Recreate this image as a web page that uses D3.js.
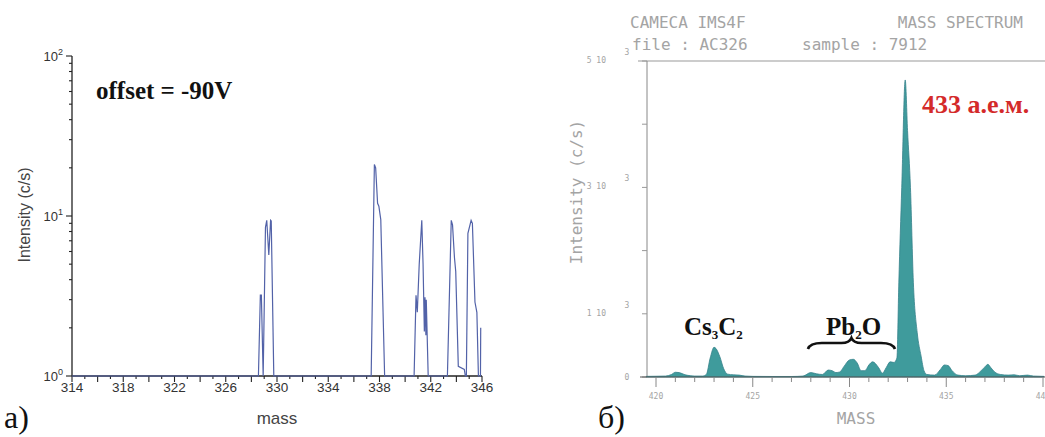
<!DOCTYPE html>
<html>
<head>
<meta charset="utf-8">
<script src="https://cdn.jsdelivr.net/npm/d3@7/dist/d3.min.js"></script>
<style>
  html, body { margin: 0; padding: 0; background: #fff; }
  svg { display: block; }
</style>
</head>
<body>
<svg id="fig" width="1045" height="437"></svg>
<script>
// ---- Panel a): scan at offset -90 V (log intensity) ----
const massA   = [314, 328.55, 328.7, 328.78, 328.92, 329.1, 329.2, 329.36, 329.5, 329.55, 329.75,
                 337.35, 337.6, 337.7, 337.85, 337.95, 338.1, 338.4,
                 340.7, 340.85, 340.95, 341.1, 341.3, 341.4, 341.5, 341.55, 341.62, 341.65, 341.8,
                 343.3, 343.6, 343.7, 343.85, 343.95, 344.15, 344.62, 344.7, 344.78, 344.9, 345.15, 345.25, 345.45, 345.6, 345.72, 345.88, 345.9];
const countsA = [1, 1, 3.2, 3.2, 1, 8.5, 9.4, 5.7, 9.4, 9.3, 1,
                 1, 21, 20, 12, 11.5, 9.5, 1,
                 1, 3.2, 2.5, 5, 9.4, 5, 1.9, 3.1, 1.8, 3.0, 1,
                 1, 9.4, 8.8, 5.5, 4.5, 1.15, 1.1, 1, 1, 7.8, 9.4, 9.0, 2.9, 2.5, 1, 1, 2.0];
const xTicksA = [314, 318, 322, 326, 330, 334, 338, 342, 346];
const yDecadesA = [0, 1, 2];

// ---- Panel б): CAMECA IMS4F mass spectrum (linear intensity) ----
const massB   = [419.5, 420.0, 420.5, 420.8, 421.0, 421.2, 421.5, 421.8, 422.0, 422.4, 422.6, 422.8, 423.0, 423.1, 423.3, 423.5, 423.7, 424.0, 424.3, 424.6,
                 425.0, 426.0, 427.0, 427.6, 428.0, 428.3, 428.6, 428.9, 429.1, 429.3, 429.5, 429.7, 430.0, 430.2, 430.4, 430.6, 430.8,
                 431.0, 431.2, 431.5, 431.7, 431.9, 432.1, 432.3, 432.45, 432.55, 432.7, 432.88, 433.0, 433.15, 433.3, 433.5, 433.7, 433.85, 434.0,
                 434.4, 434.7, 434.9, 435.1, 435.3, 435.6, 436.0, 436.5, 436.8, 437.0, 437.15, 437.3, 437.5, 437.8, 438.2, 438.5, 438.8, 439.2, 439.5, 440.05];
const countsB = [10, 12, 15, 40, 75, 70, 35, 20, 15, 15, 40, 300, 470, 450, 320, 130, 45, 35, 30, 15,
                 10, 8, 8, 15, 70, 50, 40, 110, 100, 70, 80, 160, 270, 280, 220, 100, 100,
                 190, 240, 150, 60, 150, 240, 230, 300, 1500, 3000, 4700, 3900, 3000, 1500, 700, 330, 100, 40,
                 30, 120, 190, 180, 100, 30, 20, 30, 100, 160, 200, 150, 80, 40, 30, 35, 20, 30, 15, 10];
const xTicksB = [420, 425, 430, 435, 440];
const yTicksB = [0, 1000, 2000, 3000, 4000, 5000];
const yLabelsB = [{v: 0, m: "", e: "0"}, {v: 1000, m: "1 10", e: "3"}, {v: 3000, m: "3 10", e: "3"}, {v: 5000, m: "5 10", e: "3"}];

const svg = d3.select("#fig");

// ================= Panel a) =================
const xA = d3.scaleLinear().domain([314, 346]).range([72, 482]);
const yA = d3.scaleLog().domain([1, 100]).range([376, 56]);
const axisCol = "#222";
const gA = svg.append("g");

// y axis with log minor ticks
const yTickVals = [];
for (let d = 0; d < 2; d++) for (let k = 1; k <= 9; k++) yTickVals.push(k * Math.pow(10, d));
yTickVals.push(100);
gA.append("line").attr("x1", xA(314)).attr("x2", xA(314)).attr("y1", yA(100)).attr("y2", yA(1))
  .attr("stroke", axisCol).attr("stroke-width", 1.3);
gA.selectAll("line.yt").data(yTickVals).join("line")
  .attr("x1", xA(314)).attr("x2", d => xA(314) - (Math.log10(d) % 1 === 0 ? 6 : 3))
  .attr("y1", d => yA(d)).attr("y2", d => yA(d))
  .attr("stroke", axisCol).attr("stroke-width", 1.1);
const yl = gA.selectAll("text.yl").data(yDecadesA).join("text")
  .attr("x", xA(314) - 9).attr("y", d => yA(Math.pow(10, d)) + 5)
  .attr("text-anchor", "end").attr("font-family", "Liberation Sans, Arial, sans-serif")
  .attr("font-size", 13).attr("fill", "#333");
yl.append("tspan").text("10");
yl.append("tspan").attr("dy", -6).attr("font-size", 9).text(d => d);

// x axis
gA.append("line").attr("x1", xA(314)).attr("x2", xA(346)).attr("y1", yA(1)).attr("y2", yA(1))
  .attr("stroke", axisCol).attr("stroke-width", 1.3);
gA.selectAll("line.xt").data(d3.range(314, 347, 1)).join("line")
  .attr("x1", d => xA(d)).attr("x2", d => xA(d))
  .attr("y1", yA(1)).attr("y2", d => yA(1) + (d % 2 === 0 ? 6 : 3))
  .attr("stroke", axisCol).attr("stroke-width", 1.1);
gA.selectAll("text.xl").data(xTicksA).join("text")
  .attr("x", d => xA(d)).attr("y", 392).attr("text-anchor", "middle")
  .attr("font-family", "Liberation Sans, Arial, sans-serif").attr("font-size", 13.5).attr("fill", "#333")
  .text(d => d);

// spectrum trace
const lineA = d3.line().x(d => xA(d[0])).y(d => yA(d[1]));
gA.append("path").datum(massA.map((m, i) => [m, countsA[i]]))
  .attr("d", lineA).attr("fill", "none").attr("stroke", "#5262a8").attr("stroke-width", 1.2);

// titles
gA.append("text").attr("x", 277).attr("y", 424).attr("text-anchor", "middle")
  .attr("font-family", "Liberation Sans, Arial, sans-serif").attr("font-size", 17).attr("fill", "#444")
  .text("mass");
gA.append("text").attr("transform", "translate(30,215) rotate(-90)").attr("text-anchor", "middle")
  .attr("font-family", "Liberation Sans, Arial, sans-serif").attr("font-size", 16).attr("fill", "#444")
  .text("Intensity (c/s)");
gA.append("text").attr("x", 96).attr("y", 99)
  .attr("font-family", "Liberation Serif, Times New Roman, serif").attr("font-weight", "bold")
  .attr("font-size", 25).attr("fill", "#111").text("offset = -90V");
gA.append("text").attr("x", 4).attr("y", 428)
  .attr("font-family", "Liberation Serif, Times New Roman, serif").attr("font-size", 32).attr("fill", "#111")
  .text("a)");

// ================= Panel б) =================
const xB = d3.scaleLinear().domain([420, 440]).range([656, 1043]);
const yB = d3.scaleLinear().domain([0, 5000]).range([377, 61]);
const gB = svg.append("g");
const mono = "DejaVu Sans Mono, Liberation Mono, monospace";
const greyTxt = "#a4a4a4";

// frame lines
gB.append("line").attr("x1", 638).attr("x2", 1045).attr("y1", yB(5000)).attr("y2", yB(5000))
  .attr("stroke", "#999").attr("stroke-width", 1);
gB.append("line").attr("x1", 647).attr("x2", 647).attr("y1", yB(5000)).attr("y2", yB(0))
  .attr("stroke", "#888").attr("stroke-width", 1);
gB.selectAll("line.yt").data(yTicksB).join("line")
  .attr("x1", 642).attr("x2", 647).attr("y1", d => yB(d)).attr("y2", d => yB(d))
  .attr("stroke", "#999").attr("stroke-width", 1);

// filled spectrum
const areaB = d3.area().curve(d3.curveMonotoneX)
  .x(d => xB(d[0])).y0(yB(0)).y1(d => yB(d[1]));
gB.append("path").datum(massB.map((m, i) => [m, countsB[i]]))
  .attr("d", areaB).attr("fill", "#3f9b9c").attr("stroke", "#35818a").attr("stroke-width", 0.8);

// x axis baseline and ticks
gB.append("line").attr("x1", 640).attr("x2", 1045).attr("y1", yB(0)).attr("y2", yB(0))
  .attr("stroke", "#555").attr("stroke-width", 1.2);
gB.selectAll("line.xt").data(d3.range(420, 441, 1)).join("line")
  .attr("x1", d => xB(d)).attr("x2", d => xB(d))
  .attr("y1", yB(0)).attr("y2", d => yB(0) + (d % 5 === 0 ? 10 : 5))
  .attr("stroke", "#888").attr("stroke-width", 1);
gB.selectAll("text.xl").data(xTicksB).join("text")
  .attr("x", d => xB(d)).attr("y", 399).attr("text-anchor", "middle")
  .attr("font-family", mono).attr("font-size", 8).attr("fill", greyTxt).text(d => d);

// y labels in the instrument's "m 10 ^e" style
gB.selectAll("text.ym").data(yLabelsB).join("text")
  .attr("x", 606).attr("y", d => yB(d.v) + 2).attr("text-anchor", "end")
  .attr("font-family", mono).attr("font-size", 8).attr("fill", greyTxt).text(d => d.m);
gB.selectAll("text.ye").data(yLabelsB).join("text")
  .attr("x", 627).attr("y", d => yB(d.v) + (d.e === "0" ? 3 : -6)).attr("text-anchor", "middle")
  .attr("font-family", mono).attr("font-size", 8).attr("fill", greyTxt).text(d => d.e);

// header
const hdr = [{t: "CAMECA IMS4F", x: 630, y: 28, a: "start"}, {t: "MASS SPECTRUM", x: 1023, y: 28, a: "end"},
             {t: "file : AC326", x: 632, y: 50, a: "start"}, {t: "sample : 7912", x: 802, y: 50, a: "start"}];
gB.selectAll("text.hdr").data(hdr).join("text")
  .attr("x", d => d.x).attr("y", d => d.y).attr("text-anchor", d => d.a)
  .attr("font-family", mono).attr("font-size", 16).attr("fill", greyTxt).text(d => d.t);
gB.append("text").attr("transform", "translate(582,192) rotate(-90)").attr("text-anchor", "middle")
  .attr("font-family", mono).attr("font-size", 16).attr("fill", greyTxt).text("Intensity (c/s)");
gB.append("text").attr("x", 856).attr("y", 424).attr("text-anchor", "middle")
  .attr("font-family", mono).attr("font-size", 16).attr("fill", greyTxt).text("MASS");

// annotations
const serif = "Liberation Serif, Times New Roman, serif";
gB.append("text").attr("x", 922).attr("y", 113)
  .attr("font-family", serif).attr("font-weight", "bold").attr("font-size", 26).attr("fill", "#d42a2a")
  .text("433 а.е.м.");
const cs = gB.append("text").attr("x", 684).attr("y", 335)
  .attr("font-family", serif).attr("font-weight", "bold").attr("font-size", 25).attr("fill", "#111");
cs.append("tspan").text("Cs");
cs.append("tspan").attr("font-size", 13).attr("dy", 4).text("3");
cs.append("tspan").attr("dy", -4).text("C");
cs.append("tspan").attr("font-size", 13).attr("dy", 4).text("2");
const pb = gB.append("text").attr("x", 826).attr("y", 335)
  .attr("font-family", serif).attr("font-weight", "bold").attr("font-size", 25).attr("fill", "#111");
pb.append("tspan").text("Pb");
pb.append("tspan").attr("font-size", 13).attr("dy", 4).text("2");
pb.append("tspan").attr("dy", -4).text("O");

// curly brace under Pb2O
const bx0 = xB(427.85), bx1 = xB(432.35), bm = (bx0 + bx1) / 2, by = 344;
gB.append("path")
  .attr("d", `M${bx0},${by + 5} Q${bx0 + 2},${by - 1} ${bx0 + 14},${by - 1} L${bm - 10},${by - 1} Q${bm - 2},${by - 1} ${bm},${by - 6}`
           + ` Q${bm + 2},${by - 1} ${bm + 10},${by - 1} L${bx1 - 14},${by - 1} Q${bx1 - 2},${by - 1} ${bx1},${by + 5}`)
  .attr("fill", "none").attr("stroke", "#111").attr("stroke-width", 2.6);

gB.append("text").attr("x", 598).attr("y", 428)
  .attr("font-family", serif).attr("font-size", 32).attr("fill", "#111").text("б)");
</script>
</body>
</html>
